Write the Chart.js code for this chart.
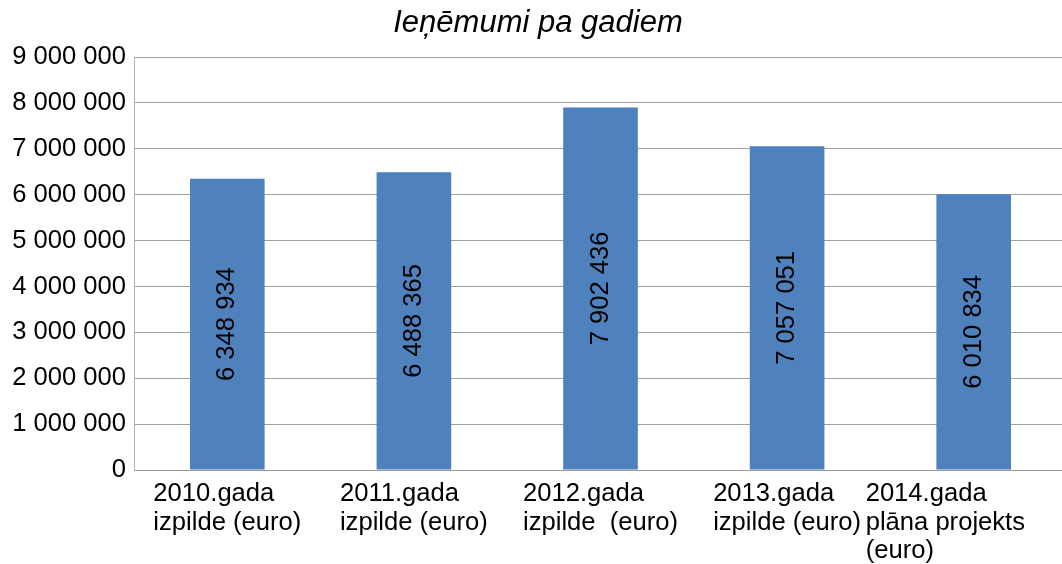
<!DOCTYPE html>
<html>
<head>
<meta charset="utf-8">
<script src="https://cdn.jsdelivr.net/npm/chart.js@4"></script>
<style>
  body { margin: 0; background: #fff; overflow: hidden; }
</style>
</head>
<body>
<canvas id="myChart" width="1067" height="564"></canvas>
<script>
var titleText = "Ieņēmumi pa gadiem";
var categories = [
    ["2010.gada", "izpilde (euro)"],
    ["2011.gada", "izpilde (euro)"],
    ["2012.gada", "izpilde  (euro)"],
    ["2013.gada", "izpilde (euro)"],
    ["2014.gada", "plāna projekts", "(euro)"],
];
var revenue = [6348934, 6488365, 7902436, 7057051, 6010834];
var yTicks = [0, 1000000, 2000000, 3000000, 4000000, 5000000, 6000000, 7000000, 8000000, 9000000];

var FONT = "Liberation Sans, Arial, sans-serif";
var FSIZE = 25.6;

function fmt(v) {
    return Math.round(v).toString().replace(/\B(?=(\d{3})+(?!\d))/g, " ");
}

// draws title, x labels and rotated value labels
var textPlugin = {
    id: "textPlugin",
    afterDraw: function (chart) {
        var ctx = chart.ctx;
        var area = chart.chartArea;
        var xs = chart.scales.x;
        var pageW = 1062;
        ctx.save();
        ctx.fillStyle = "#000";

        // title
        ctx.font = "italic 31px " + FONT;
        ctx.textAlign = "center";
        ctx.textBaseline = "alphabetic";
        ctx.fillText(titleText, pageW / 2 + 7, area.top - 25);

        // category labels: block centred on tick, lines left aligned
        ctx.font = FSIZE + "px " + FONT;
        ctx.textAlign = "left";
        categories.forEach(function (lines, i) {
            var cx = xs.getPixelForValue(i);
            var w = 0;
            lines.forEach(function (l) { w = Math.max(w, ctx.measureText(l).width); });
            var left = cx - w / 2;
            if (left + w > pageW - 37) left = pageW - 37 - w;
            lines.forEach(function (l, j) {
                ctx.fillText(l, left, area.bottom + 31 + j * 28.5);
            });
        });

        // value labels inside bars
        var meta = chart.getDatasetMeta(0);
        meta.data.forEach(function (bar, i) {
            var midY = (bar.y + bar.base) / 2;
            ctx.save();
            ctx.translate(bar.x, midY);
            ctx.rotate(-Math.PI / 2);
            ctx.textAlign = "center";
            ctx.textBaseline = "middle";
            ctx.fillText(fmt(revenue[i]), 0, 0);
            ctx.restore();
        });
        ctx.restore();
    },
};

var ctx = document.getElementById("myChart").getContext("2d");
var myChart = new Chart(ctx, {
    type: "bar",
    data: {
        labels: categories,
        datasets: [
            {
                label: "Ieņēmumi",
                data: revenue,
                backgroundColor: "#4f81bd",
                categoryPercentage: 1,
                barPercentage: 0.4,
            },
        ],
    },
    options: {
        responsive: false,
        animation: false,
        layout: { padding: 0 },
        plugins: {
            legend: { display: false },
            tooltip: { enabled: false },
            title: {
                display: true,
                text: titleText,
                color: "rgba(0,0,0,0)",
                font: { family: FONT, size: FSIZE, style: "italic" },
                padding: { top: 10, bottom: 16.3 },
            },
        },
        scales: {
            x: {
                grid: { display: false },
                border: { color: "#999" },
                ticks: { display: false },
                afterFit: function (s) { s.height = 94; },
            },
            y: {
                min: 0,
                max: 9000000,
                afterBuildTicks: function (s) {
                    s.ticks = yTicks.map(function (v) { return { value: v }; });
                },
                grid: { color: "#a0a0a0", drawTicks: false },
                border: { color: "#b3b3b3" },
                ticks: {
                    color: "#000",
                    padding: 8,
                    font: { family: FONT, size: FSIZE },
                    callback: function (v) { return fmt(v); },
                },
                afterFit: function (s) { s.width = 134; },
            },
        },
    },
    plugins: [textPlugin],
});
</script>
</body>
</html>
